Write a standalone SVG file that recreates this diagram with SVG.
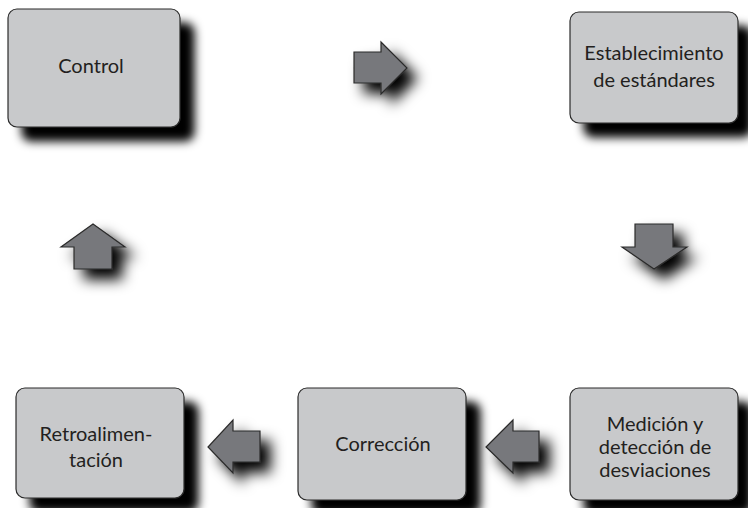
<svg xmlns="http://www.w3.org/2000/svg" width="748" height="508" viewBox="0 0 748 508">
<defs>
<filter id="boxShadow" x="-20%" y="-20%" width="150%" height="160%">
<feDropShadow dx="14" dy="14" stdDeviation="5" flood-color="#000" flood-opacity="1"/>
</filter>
<filter id="arrowShadow" x="-50%" y="-50%" width="220%" height="220%">
<feDropShadow dx="10" dy="10" stdDeviation="7" flood-color="#000" flood-opacity="1"/>
</filter>
</defs>
<style>
.box{fill:#c8c9cb;stroke:#2b2b2b;stroke-width:1.2;filter:url(#boxShadow)}
.arrow{fill:#77787b;stroke:#2b2b2b;stroke-width:1.2;stroke-linejoin:miter;filter:url(#arrowShadow)}
.label{font-family:Lato,"Open Sans","Liberation Sans",sans-serif;font-size:20px;fill:#231f20;text-anchor:middle}
</style>
<rect width="748" height="508" fill="#ffffff"/>
<g id="connectors">
<path class="arrow" d="M354,52 H381 V42 L407,68 L381,94 V83 H354 Z"/>
<path class="arrow" d="M635,224 H673 V247 H687 L654,269 L622,247 H635 Z"/>
<path class="arrow" d="M539,431 V462 H513 V473 L486,447 L513,420 V431 Z"/>
<path class="arrow" d="M260,431 V462 H233 V473 L208,447 L233,420 V431 Z"/>
<path class="arrow" d="M74,269 V247 H61 L93,224 L125,247 H112 V269 Z"/>
</g>
<g id="control">
<rect class="box" x="8" y="9" width="172" height="118" rx="9"/>
<text class="label" x="91" y="73">Control</text>
</g>
<g id="establecimiento">
<rect class="box" x="570" y="12" width="168" height="111" rx="9"/>
<text class="label" x="654" y="60">Establecimiento</text>
<text class="label" x="654" y="87">de estándares</text>
</g>
<g id="medicion">
<rect class="box" x="570" y="388" width="168" height="112" rx="9"/>
<text class="label" x="655" y="431">Medición y</text>
<text class="label" x="655" y="454">detección de</text>
<text class="label" x="655" y="477">desviaciones</text>
</g>
<g id="correccion">
<rect class="box" x="298" y="388" width="168" height="112" rx="9"/>
<text class="label" x="383" y="451">Corrección</text>
</g>
<g id="retroalimentacion">
<rect class="box" x="16" y="388" width="168" height="110" rx="9"/>
<text class="label" x="96" y="441">Retroalimen-</text>
<text class="label" x="96" y="467">tación</text>
</g>
</svg>
